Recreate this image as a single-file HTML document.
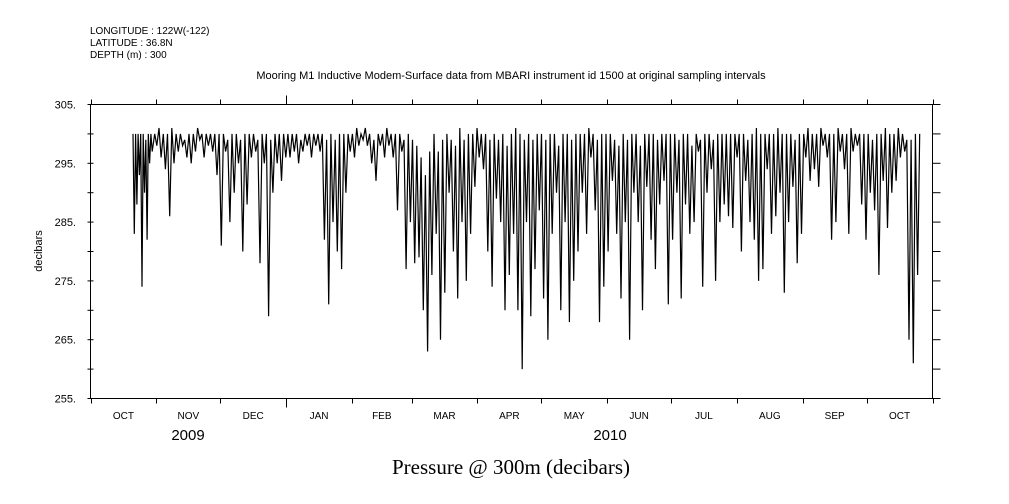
<!DOCTYPE html>
<html><head><meta charset="utf-8"><style>
body{margin:0;background:#fff}
svg{display:block}
text{font-family:"Liberation Sans",sans-serif;fill:#000}
</style></head><body>
<svg id="chart" width="1009" height="504" viewBox="0 0 1009 504" xmlns="http://www.w3.org/2000/svg">
<g font-size="10">
<text x="90" y="34">LONGITUDE : 122W(-122)</text>
<text x="90" y="46">LATITUDE : 36.8N</text>
<text x="90" y="58">DEPTH (m) : 300</text>
</g>
<text x="511" y="79" font-size="11" text-anchor="middle">Mooring M1 Inductive Modem-Surface data from MBARI instrument id 1500 at original sampling intervals</text>
<text transform="translate(42,251) rotate(-90)" font-size="11" text-anchor="middle">decibars</text>
<text x="511" y="474" font-size="21" text-anchor="middle" style="font-family:'Liberation Serif',serif">Pressure @ 300m (decibars)</text>
<text x="188" y="440" font-size="15" text-anchor="middle">2009</text>
<text x="610" y="440" font-size="15" text-anchor="middle">2010</text>
<rect x="90.5" y="104.5" width="842" height="294" fill="none" stroke="#000" stroke-width="1"/>
<g id="axes"></g>
<polyline id="series" fill="none" stroke="#000" stroke-width="1.2"/>
</svg>
<script>
const yTicks=[305,295,285,275,265,255];
const monthLabels=["OCT","NOV","DEC","JAN","FEB","MAR","APR","MAY","JUN","JUL","AUG","SEP","OCT"];
const monthStartDays=[0,31,61,92,123,151,182,212,243,273,304,335,365,396];
const lows=[283,288,293,274,290,282,295,297,
298,296,294,286,295,297,298,296,295,297,299,296,298,297,293,
281,297,285,290,295,280,288,296,297,278,295,269,290,295,292,
296,296,297,295,297,298,296,298,297,282,271,285,280,277,290,
297,296,298,299,298,295,292,298,296,298,296,287,297,277,285,
278,279,270,263,276,283,265,273,290,280,272,285,275,283,291,
296,294,280,274,289,285,270,276,283,270,260,285,269,277,287,
272,265,283,290,270,285,268,275,280,290,283,296,287,268,274,
280,292,283,272,285,265,290,285,270,291,282,277,288,292,271,
282,290,272,288,283,285,297,274,290,294,275,285,288,286,284,
296,280,292,285,282,275,277,294,283,286,290,273,285,291,278,
283,296,292,294,291,298,296,282,285,297,294,283,297,298,288,
282,290,287,276,292,284,290,292,296,297,265,261,276];
const highs=[300,300,300,300,300,299,300,300,
300,301,300,300,301,300,300,299,300,300,301,300,300,300,300,
300,300,299,300,300,299,300,300,300,299,300,300,299,300,300,
300,300,300,300,299,300,300,300,300,300,299,300,299,300,300,
300,300,301,300,301,300,299,300,300,301,300,300,300,299,300,
299,298,296,293,297,300,297,299,300,299,298,301,299,300,300,
301,300,300,299,300,299,300,298,300,301,300,299,300,299,300,
300,299,300,300,298,300,300,299,300,300,300,301,300,299,300,
300,300,299,298,300,299,300,300,298,300,300,300,299,300,300,
300,300,299,300,300,298,300,299,300,300,299,300,300,300,300,
300,300,300,299,300,301,300,300,300,300,301,300,300,300,299,
300,300,301,300,300,301,300,300,300,301,300,300,301,300,300,
300,300,299,300,300,301,300,300,301,300,299,299,300];
const startDay=20, baseDay=14, lastDay=390;
const X0=90.5,X1=932.5,Y0=104.5,Y1=398.5;
const xs=d=>X0+(d/396)*(X1-X0);
const ys=v=>Y0+(305-v)/50*(Y1-Y0);
const NS="http://www.w3.org/2000/svg";
const axes=document.getElementById('axes');
function mk(tag,attrs){const e=document.createElementNS(NS,tag);for(const k in attrs)e.setAttribute(k,attrs[k]);axes.appendChild(e);return e;}
for(let v=305;v>=255;v-=5){
  const y=ys(v);
  const t=mk('line',{x1:X0-3,x2:X0+3,y1:y,y2:y,stroke:'#000'});
  
  
  const r=mk('line',{x1:X1,x2:X1+8,y1:y,y2:y,stroke:'#000'});
  
  
}
yTicks.forEach(v=>{
  const t=mk('text',{x:76,y:ys(v)+4,'font-size':11,'text-anchor':'end'});
  t.textContent=v+'.';
  
  
});
monthStartDays.forEach((d,i)=>{
  const x=Math.round(xs(d))+0.5;
  const big=(i===3);
  const a=mk('line',{x1:x,x2:x,y1:Y0-(big?9:5),y2:Y0,stroke:'#000'});
  
  
  const b=mk('line',{x1:x,x2:x,y1:Y1,y2:Y1+(big?9:5),stroke:'#000'});
  
  
});
monthLabels.forEach((m,i)=>{
  const mid=(monthStartDays[i]+monthStartDays[i+1])/2;
  const t=mk('text',{x:xs(mid),y:419,'font-size':10,'text-anchor':'middle'});
  t.textContent=m;
  
  
});
const step=(lastDay-baseDay)/lows.length;
const dayOf=i=> i<8 ? startDay+i*1.2 : baseDay+i*step;
let pts=[];
lows.forEach((lo,i)=>{
  const d=dayOf(i);
  const half=(i<8?1.2:step)*0.5;
  pts.push(xs(d).toFixed(1)+','+ys(highs[i]).toFixed(1));
  pts.push(xs(d+half).toFixed(1)+','+ys(lo).toFixed(1));
});
pts.push(xs(lastDay).toFixed(1)+','+ys(300).toFixed(1));
document.getElementById('series').setAttribute('points',pts.join(' '));
</script>
</body></html>
